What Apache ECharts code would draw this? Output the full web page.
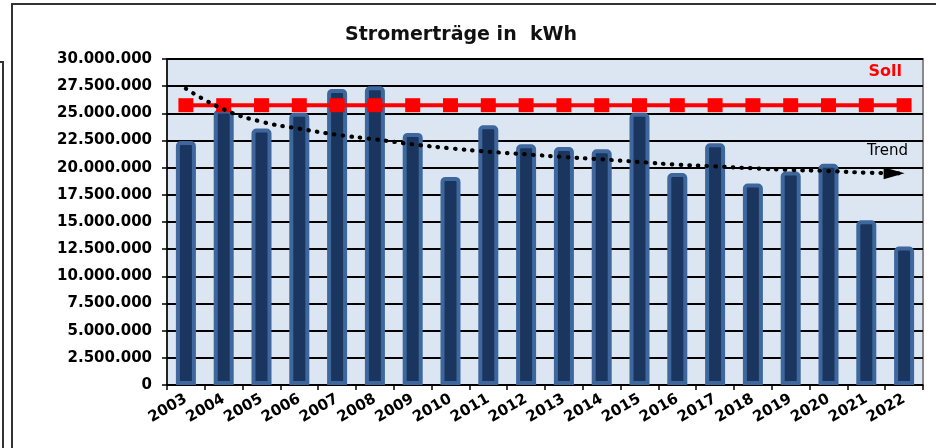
<!DOCTYPE html>
<html>
<head>
<meta charset="utf-8">
<script src="https://cdn.jsdelivr.net/npm/echarts@6/dist/echarts.min.js"></script>
<style>
html,body{margin:0;padding:0;background:#fff;}
#c{width:936px;height:448px;}
</style>
</head>
<body>
<div id="c"></div>
<script>
const categories = ['2003','2004','2005','2006','2007','2008','2009','2010','2011','2012','2013','2014','2015','2016','2017','2018','2019','2020','2021','2022'];
const ertraege = [22450000,25350000,23600000,25050000,27250000,27500000,23200000,19150000,23900000,22150000,21900000,21700000,25050000,19500000,22250000,18550000,19650000,20350000,15150000,12750000];
const soll = [25750000,25750000,25750000,25750000,25750000,25750000,25750000,25750000,25750000,25750000,25750000,25750000,25750000,25750000,25750000,25750000,25750000,25750000,25750000,25750000];
const trend = [27270000,25370000,24230000,23590000,23030000,22610000,22150000,21780000,21470000,21230000,20980000,20770000,20520000,20280000,20120000,19940000,19790000,19690000,19540000,19480000];
const yMax = 30000000;
const yStep = 2500000;

function fmt(v){ return String(v).replace(/\B(?=(\d{3})+(?!\d))/g,'.'); }

const chart = echarts.init(document.getElementById('c'), null, {renderer:'canvas'});
const FONT = 'DejaVu Sans';

const trendData = trend.map((v,i)=> i===trend.length-1
  ? {value:v, symbol:'triangle', symbolSize:[12,21], symbolRotate:-90, symbolOffset:[-10,0], itemStyle:{color:'#000'}}
  : {value:v, symbol:'none'});

chart.setOption({
  animation:false,
  title:{
    text:'Stromerträge in  kWh',
    left:456, top:21, textAlign:'center',
    textStyle:{fontFamily:FONT, fontWeight:'bold', fontSize:19, color:'#111'}
  },
  grid:{left:167, top:59, right:13, bottom:63, show:true, backgroundColor:'#dce6f2', borderColor:'#8a8a8a', borderWidth:2},
  xAxis:{
    type:'category', data:categories,
    axisLine:{lineStyle:{color:'#000', width:1.5}},
    axisTick:{show:true, alignWithLabel:false, length:5, lineStyle:{color:'#000', width:1.5}},
    axisLabel:{rotate:30, interval:0, margin:13, fontFamily:FONT, fontWeight:'bold', fontSize:15, color:'#000'}
  },
  yAxis:{
    type:'value', min:0, max:yMax, interval:yStep,
    axisLine:{show:true, lineStyle:{color:'#000', width:1.5}},
    axisTick:{show:true, length:5, lineStyle:{color:'#000', width:1.5}},
    splitLine:{lineStyle:{color:'#000', width:1.8}},
    axisLabel:{formatter:fmt, margin:15, fontFamily:FONT, fontWeight:'bold', fontSize:15, color:'#000'}
  },
  series:[
    {
      type:'bar', data:ertraege, barWidth:20, z:2,
      itemStyle:{color:'#1a365e', borderColor:'#3d679d', borderWidth:4, borderRadius:[3,3,0,0]}
    },
    {
      type:'line', data:soll, z:3, symbol:'rect', symbolSize:[15,14],
      lineStyle:{color:'#ff0000', width:4}, itemStyle:{color:'#ff0000'}
    },
    {
      type:'line', data:trendData, z:4, smooth:true,
      lineStyle:{color:'#000', width:4.2, type:[0.5,8.2], cap:'round'},
      itemStyle:{color:'#000'}
    }
  ],
  graphic:[
    {type:'polyline', shape:{points:[[936,4],[12,4],[12,448]]}, style:{stroke:'#333', lineWidth:2, fill:null}},
    {type:'polyline', shape:{points:[[0,62],[3,62],[3,448]]}, style:{stroke:'#333', lineWidth:2, fill:null}},
    {type:'text', right:34, top:64, style:{text:'Soll', fill:'#ff0000', font:'bold 16px "DejaVu Sans"'}},
    {type:'text', right:28, top:144, style:{text:'Trend', fill:'#000', font:'15px "DejaVu Sans"'}}
  ]
});
</script>
</body>
</html>
